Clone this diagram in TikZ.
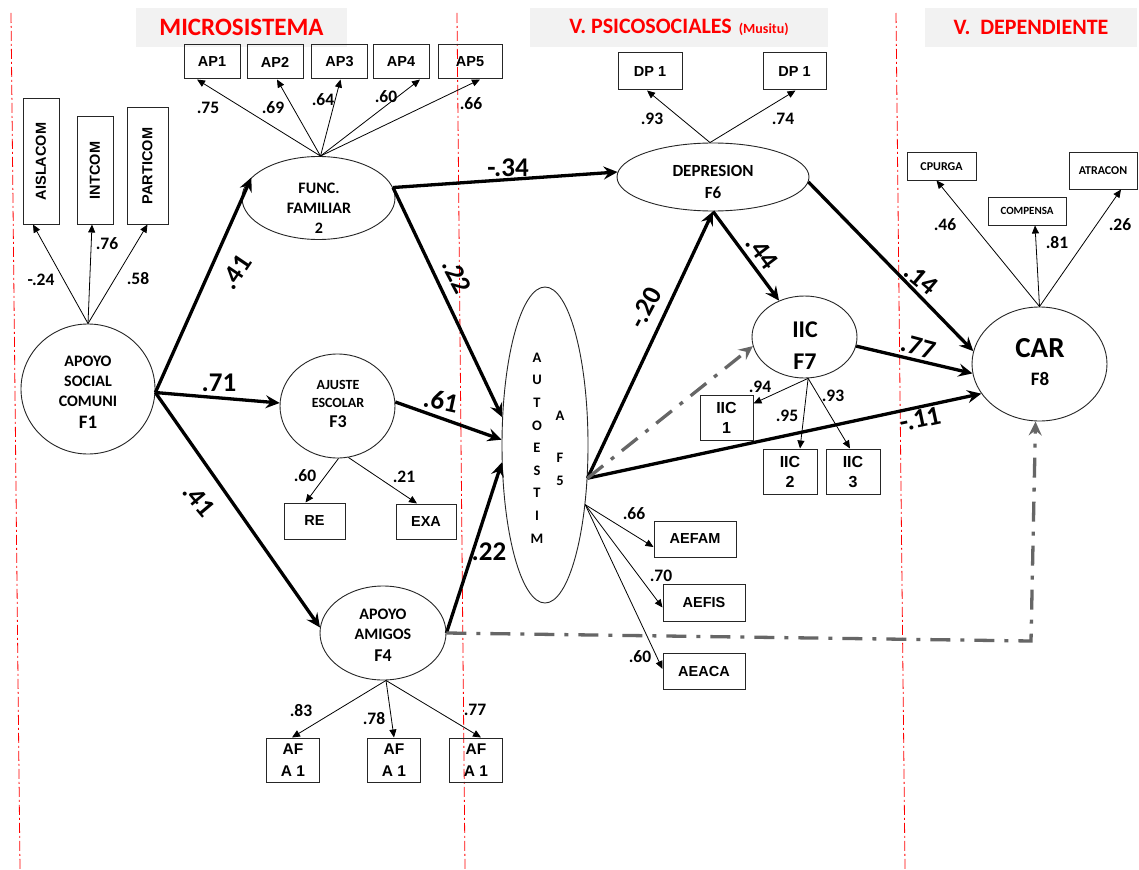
\documentclass[tikz,border=0pt]{standalone}
\usepackage{fontspec}
\setmainfont{Carlito}
\newfontfamily\arialf{Liberation Sans}
\usetikzlibrary{arrows.meta,shapes.geometric}
\newcommand\fsz[2]{\fontsize{#1}{#2}\selectfont}
\definecolor{hdrred}{RGB}{255,0,0}
\begin{document}
\begin{tikzpicture}[x=1pt,y=-1pt,
  box/.style={draw=black!85, line width=1pt, inner sep=0pt, align=center, font=\arialf\bfseries\fsz{14.5}{16}},
  sbox/.style={draw=black!85, line width=1pt, inner sep=0pt, align=center},
  lat/.style={draw=black!85, ellipse, line width=0.9pt, inner sep=0pt},
  ltxt/.style={align=center, inner sep=0pt, font=\bfseries\fsz{16}{20}},
  ld/.style={-{Triangle[length=8pt,width=7pt]}, line width=0.8pt},
  pth/.style={-{Stealth[length=14pt,width=13pt,inset=5pt]}, line width=3.3pt},
  gdd/.style={-{Stealth[length=14pt,width=13pt,inset=5pt]}, draw=black!60, line width=3.3pt, dash pattern=on 20pt off 10pt on 4pt off 10pt},
  num/.style={inner sep=0pt, font=\bfseries\fsz{17.5}{18}},
  big/.style={inner sep=0pt, font=\bfseries\fsz{27}{27}},
  sepl/.style={draw=hdrred, line width=0.8pt, dash pattern=on 10pt off 3pt on 2pt off 3pt},
  hdr/.style={fill=black!5, inner sep=0pt, text=hdrred, font=\bfseries\fsz{22}{24}}
]
\useasboundingbox (0,0) rectangle (1139,869);
\fill[white] (0,0) rectangle (1139,869);

% separators
\draw[sepl] (11,13) -- (20,869);
\draw[sepl] (457,13) -- (465,869);
\draw[sepl] (896,13) -- (905,869);

% headers
\node[hdr, minimum width=211pt, minimum height=39pt, font=\bfseries\fsz{25}{26}] (h1) at (241.5,27.5) {MICROSISTEMA};
\node[hdr, minimum width=298pt, minimum height=39pt] (h2) at (679,27.5) {V. PSICOSOCIALES\hspace{7pt}{\fsz{14}{14}(Musitu)}};
\node[hdr, minimum width=212pt, minimum height=39pt] (h3) at (1031,27.5) {V.\ \ DEPENDIENTE};

% latent variables
\node[lat, minimum width=134pt, minimum height=130pt] (f1) at (88,389) {};
\node[ltxt] (f1t) at (88,392) {APOYO\\SOCIAL\\COMUNI\\[2pt]{\fsz{19}{20}F1}};
\node[lat, minimum width=153pt, minimum height=83pt] (ff) at (318.5,198) {};
\node[ltxt] (fft) at (319,208) {FUNC.\\FAMILIAR\\2};
\node[lat, minimum width=115pt, minimum height=104pt] (f3) at (337.5,406) {};
\node[ltxt, font=\bfseries\fsz{14}{18}] (f3t) at (338,404) {AJUSTE\\ESCOLAR\\[2pt]{\fsz{18}{20}F3}};
\node[lat, minimum width=126pt, minimum height=94pt] (f4) at (383,633) {};
\node[ltxt] (f4t) at (383,635) {APOYO\\AMIGOS\\[2pt]{\fsz{18}{20}F4}};
\node[lat, minimum width=86pt, minimum height=316pt] (f5) at (545,445) {};
\node[ltxt, font=\bfseries\fsz{14.5}{22.6}] (f5a) at (537,448) {A\\U\\T\\O\\E\\S\\T\\I\\M};
\node[ltxt, font=\bfseries\fsz{14.5}{22.6}] (f5b) at (560,448) {A\\[20pt]F\\5};
\node[lat, minimum width=192pt, minimum height=68pt] (dep) at (713,177) {};
\node[ltxt, font=\bfseries\fsz{17}{22}] (dept) at (713,182) {DEPRESION\\F6};
\node[lat, minimum width=105pt, minimum height=82pt] (f7) at (804.5,337) {};
\node[ltxt, font=\bfseries\fsz{24}{32}] (f7t) at (805,346) {IIC\\F7};
\node[lat, minimum width=135pt, minimum height=114pt] (car) at (1039.5,364) {};
\node[ltxt, font=\bfseries\fsz{19}{28}] (cart) at (1040,362) {{\fsz{29}{28}CAR}\\F8};

% indicator boxes
\node[box, minimum width=56pt, minimum height=34pt] (ap1) at (212,62) {AP1};
\node[box, minimum width=56pt, minimum height=34pt] (ap2) at (275,62) {AP2};
\node[box, minimum width=56pt, minimum height=34pt] (ap3) at (339.5,62) {AP3};
\node[box, minimum width=56pt, minimum height=34pt] (ap4) at (401,62) {AP4};
\node[box, minimum width=64pt, minimum height=34pt] (ap5) at (470,62) {AP5};
\node[box, minimum width=36pt, minimum height=125pt] (aisl) at (41,161.5) {\rotatebox{90}{AISLACOM}};
\node[box, minimum width=36pt, minimum height=107pt] (intc) at (95,170.5) {\rotatebox{90}{INTCOM}};
\node[box, minimum width=41pt, minimum height=116pt] (part) at (147.5,166) {\rotatebox{90}{PARTICOM}};
\node[box, minimum width=61pt, minimum height=36pt] (re) at (314.5,521) {RE};
\node[box, minimum width=60pt, minimum height=35pt] (exa) at (426,521.5) {EXA};
\node[box, minimum width=82pt, minimum height=36pt] (aefam) at (695,539) {AEFAM};
\node[box, minimum width=82pt, minimum height=37pt] (aefis) at (704,602.5) {AEFIS};
\node[box, minimum width=82pt, minimum height=36pt] (aeaca) at (704,671) {AEACA};
\node[box, minimum width=64pt, minimum height=37pt] (dp1a) at (650,71.5) {DP 1};
\node[box, minimum width=63pt, minimum height=37pt] (dp1b) at (794.5,71.5) {DP 1};
\node[box, minimum width=53pt, minimum height=45pt, font=\arialf\bfseries\fsz{16}{20}] (iic1) at (726.5,417.5) {IIC\\1};
\node[box, minimum width=54pt, minimum height=45pt, font=\arialf\bfseries\fsz{16}{20}] (iic2) at (790,471.5) {IIC\\2};
\node[box, minimum width=54pt, minimum height=45pt, font=\arialf\bfseries\fsz{16}{20}] (iic3) at (853,471.5) {IIC\\3};
\node[box, minimum width=53pt, minimum height=44pt, font=\arialf\bfseries\fsz{15.5}{22}] (af1) at (293,760) {AF\\A 1};
\node[box, minimum width=53pt, minimum height=44pt, font=\arialf\bfseries\fsz{15.5}{22}] (af2) at (394,760) {AF\\A 1};
\node[box, minimum width=53pt, minimum height=44pt, font=\arialf\bfseries\fsz{15.5}{22}] (af3) at (476,760) {AF\\A 1};
\node[sbox, minimum width=69pt, minimum height=27pt, font=\bfseries\fsz{12}{12}] (cpurga) at (941.5,166.5) {CPURGA};
\node[sbox, minimum width=78pt, minimum height=28pt, font=\bfseries\fsz{11}{11}] (comp) at (1027,211) {COMPENSA};
\node[sbox, minimum width=68pt, minimum height=36pt, font=\bfseries\fsz{12}{12}] (atr) at (1103,171) {ATRACON};

% loadings (thin arrows)
\draw[ld] (f1.north) -- ([xshift=-8pt]aisl.south);
\draw[ld] (f1.north) -- ([xshift=-3pt]intc.south);
\draw[ld] (f1.north) -- (part.south);
\draw[ld] ([xshift=2pt]ff.north) -- ([xshift=-15pt]ap1.south);
\draw[ld] ([xshift=2pt]ff.north) -- ([xshift=2pt]ap2.south);
\draw[ld] ([xshift=2pt]ff.north) -- ([xshift=1pt]ap3.south);
\draw[ld] ([xshift=2pt]ff.north) -- ([xshift=19pt]ap4.south);
\draw[ld] ([xshift=2pt]ff.north) -- ([xshift=10pt]ap5.south);
\draw[ld] ([xshift=1pt]f3.south) -- ([xshift=-9pt]re.north);
\draw[ld] (f3.-78) -- ([xshift=-9pt]exa.north);
\draw[ld] ([xshift=3pt]f4.south) -- ([xshift=-1pt]af1.north);
\draw[ld] ([xshift=3pt]f4.south) -- (af2.north);
\draw[ld] ([xshift=3pt]f4.south) -- ([xshift=5pt]af3.north);
\draw[ld] (f5.-56) -- ([yshift=-8pt]aefam.west);
\draw[ld] (f5.-56) -- ([yshift=-5pt]aefis.west);
\draw[ld] (f5.-56) -- ([yshift=2pt]aeaca.west);
\draw[ld] ([xshift=-3pt]dep.north) -- ([xshift=-3pt]dp1a.south);
\draw[ld] ([xshift=-3pt]dep.north) -- ([xshift=1pt]dp1b.south);
\draw[ld] (f7.-85) -- ([yshift=14pt]iic1.east);
\draw[ld] (f7.-85) -- ([xshift=10pt]iic2.north);
\draw[ld] (f7.-85) -- ([xshift=-3pt]iic3.north);
\draw[ld] (car.north) -- ([xshift=-5pt]cpurga.south);
\draw[ld] (car.north) -- ([xshift=8pt]comp.south);
\draw[ld] (car.north) -- ([xshift=18pt]atr.south);

% structural paths
\draw[pth] (f1.-3) -- (ff.163);
\draw[pth] (f1.-3) -- (f3.177);
\draw[pth] (f1.-3) -- (f4.175);
\draw[pth] (ff.8) -- (dep.177);
\draw[pth] (ff.8) -- (f5.147);
\draw[pth] (f3.4) -- (f5.173);
\draw[pth] (f4.east) -- (f5.202);
\draw[pth] (f5.-38) -- (dep.south);
\draw[pth] (f5.-38) -- (car.207);
\draw[pth] (dep.south) -- (f7.125);
\draw[pth] (dep.-3) -- (car.169);
\draw[pth] (f7.-10) -- (car.188);
\draw[gdd] (f5.-38) -- (f7.190);
\coordinate (gc) at (1031,641);
\draw[gdd] (f4.east) -- (gc) -- ([xshift=-4pt]car.south);

% path coefficients
\node[big, rotate=56] (c1) at (236,272) {.41};
\node[big] (c2) at (219,383) {.71};
\node[big, rotate=-50] (c3) at (199,500) {.41};
\node[big] (c4) at (508,168) {-.34};
\node[big, rotate=-62] (c5) at (457,276) {.22};
\node[big, rotate=-12] (c6) at (441,401) {.61};
\node[big] (c7) at (489,552) {.22};
\node[big, rotate=62] (c8) at (645,308) {-.20};
\node[big, rotate=-53] (c9) at (762,252) {.44};
\node[big, rotate=-40] (c10) at (921,279) {.14};
\node[big, rotate=-15] (c11) at (918,347) {.77};
\node[big, rotate=12] (c12) at (920,419) {-.11};

% loading values
\node[num] (n1) at (41,280) {-.24};
\node[num] (n2) at (107,244) {.76};
\node[num] (n3) at (138,279) {.58};
\node[num] (n4) at (208,108) {.75};
\node[num] (n5) at (273,108) {.69};
\node[num] (n6) at (323,100) {.64};
\node[num] (n7) at (386,97) {.60};
\node[num] (n8) at (471,104) {.66};
\node[num] (n9) at (652,119) {.93};
\node[num] (n10) at (783,119) {.74};
\node[num] (n11) at (945,225) {.46};
\node[num] (n12) at (1057,243) {.81};
\node[num] (n13) at (1120,225) {.26};
\node[num] (n14) at (305,476) {.60};
\node[num] (n15) at (404,477) {.21};
\node[num] (n16) at (634,514) {.66};
\node[num] (n17) at (661,576) {.70};
\node[num] (n18) at (640,657) {.60};
\node[num] (n19) at (301,711) {.83};
\node[num] (n20) at (374,719) {.78};
\node[num] (n21) at (475,710) {.77};
\node[num] (n22) at (760,387) {.94};
\node[num] (n23) at (787,416) {.95};
\node[num] (n24) at (833,396) {.93};
\end{tikzpicture}
\end{document}
